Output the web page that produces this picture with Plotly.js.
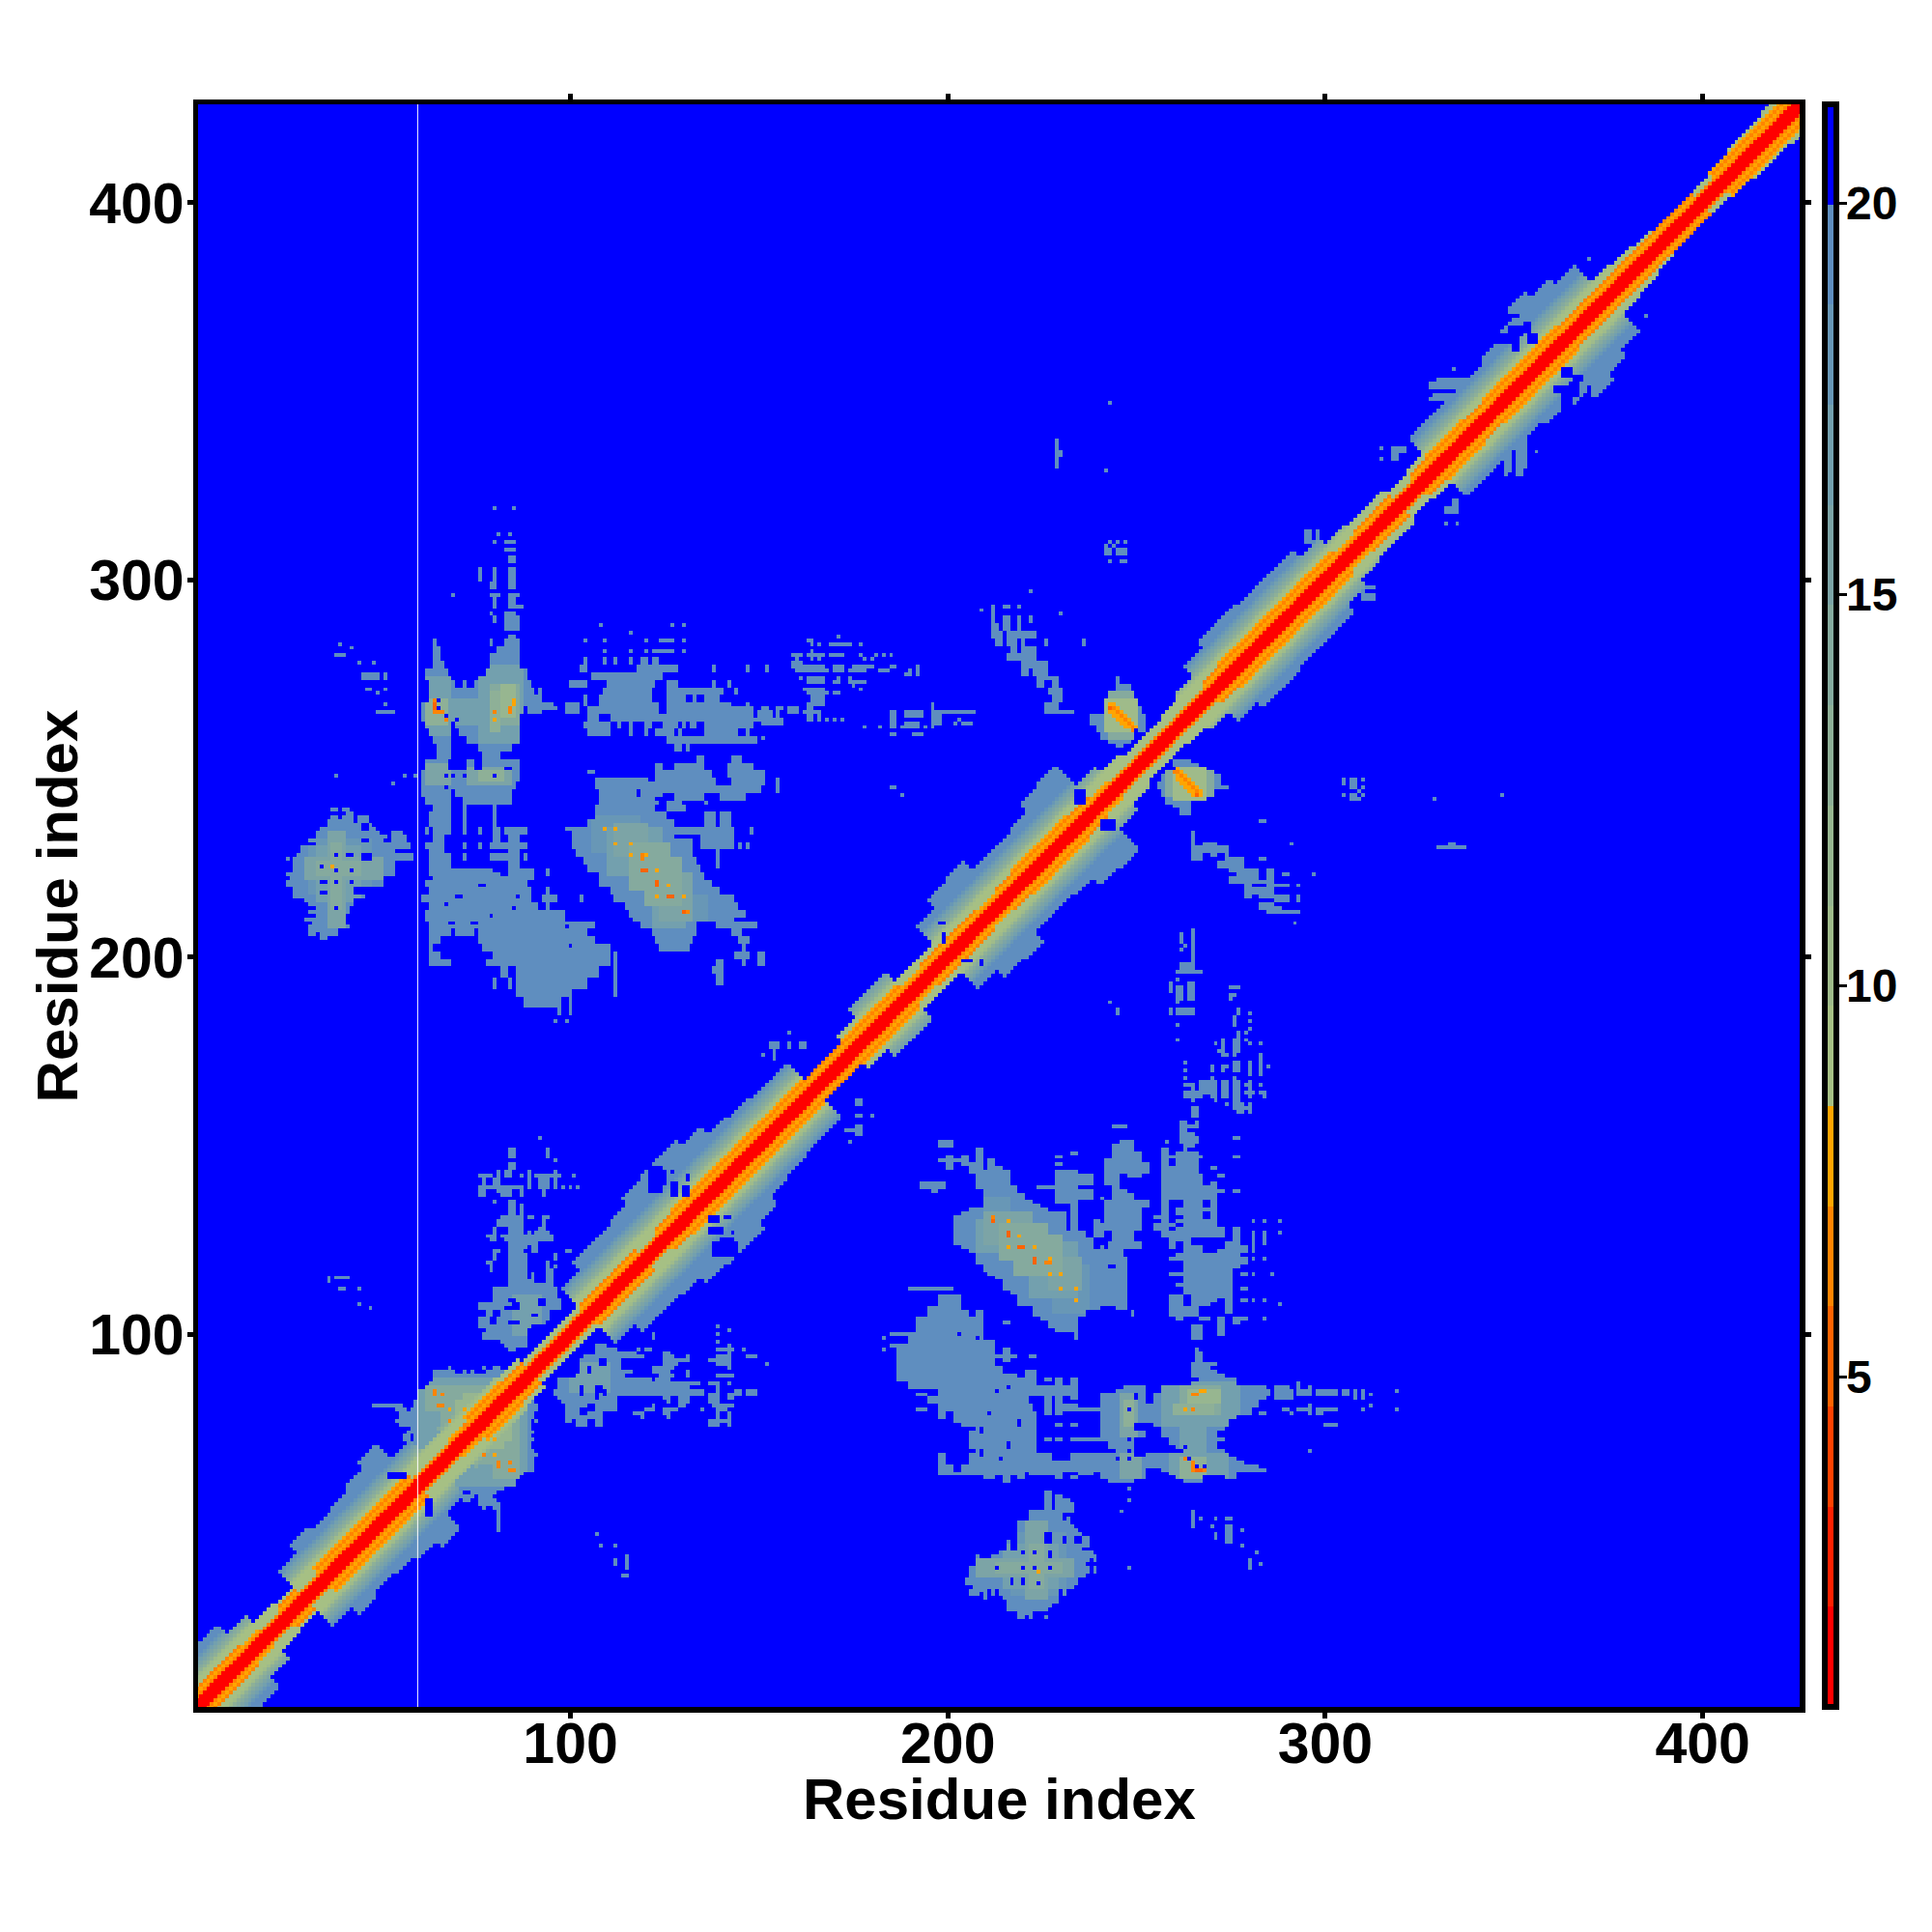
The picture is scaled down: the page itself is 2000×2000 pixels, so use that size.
<!DOCTYPE html>
<html><head><meta charset="utf-8">
<script src="https://cdn.plot.ly/plotly-3.0.1.min.js"></script>
<style>html,body{margin:0;padding:0;background:#fff}</style></head>
<body><div id="chart" style="width:2000px;height:2000px"></div>
<script>
const nResidues = 426;
const axisTitle = 'Residue index';
const tickResidues = [100, 200, 300, 400];
const colorTicks = [5, 10, 15, 20];
const bandColors = ['#FF0000','#FF2100','#FF4200','#FF6300','#FF8400','#FFA500',
  '#A6C084','#9FBB8A','#97B690','#8EB097','#85AA9E','#7CA4A6','#73A0AE','#6897B6','#5F8EBF','#0000FF'];
const zLow = 0.78, zHigh = 21.26;
const BLUE = 21, STEEL = 19.3;

// contact distance by sequence separation |i-j|
const byOffset = [1.3,1.3,1.3,6.5,7.8,6.5,7.8,9,10.3,12.9,14.2,15.4,16.7,18,19.3];
// half-widths of the diagonal band, one value per 5 residues along the diagonal
const bandSteel = [18,18,16,11,7,6,14,18,16,17,19,22,14,8,10,10,8,7,5,5,5,14,18,18,19,22,23,23,20,16,15,14,14,5,5,8,12,12,7,7,
  16,20,21,16,16,17,21,22,11,8,6,6,7,9,14,17,17,16,16,16,12,9,8,8,6,7,15,15,15,15,17,19,23,20,17,8,7,6,5,5,5,6,7,7,8,8];
const bandOrange = [5,5,5,4,3,5,3,6,6,6,6,6,3,3,4,6,6,5,3,3,3,5,5,5,3,5,6,6,6,6,6,6,6,5,5,6,6,6,4,5,
  5,5,4,5,6,6,6,5,4,3,3,3,3,3,5,6,6,6,6,6,6,4,5,5,3,5,6,6,5,6,6,6,6,5,5,5,5,5,5,6,3,6,6,6,6,6];

// off-diagonal steel regions: [yHigh, yLow, x1, x2, x1, x2, ...]
const steelRows = [
 // blob near (37,224)
 [239,239,37,38,40,41],[238,238,41,42],[237,237,37,38,40,42,44,46],[236,236,36,42,44,46],[235,235,36,47],[234,234,34,48],
 [233,233,33,49,53,55],[232,232,33,49,50,51,53,56],[231,231,31,32,33,50,53,56],[230,230,33,52,53,57],[229,229,29,52,53,57],
 [228,228,29,53],[227,227,28,53,54,58],[226,226,25,25,27,58],[225,223,27,53],[222,222,25,53],[221,221,26,50],[220,219,25,50],
 [218,217,27,42],[216,216,27,45],[215,215,30,42],[214,214,31,42],[213,213,33,41],[212,212,31,41],[211,211,33,40],[210,210,30,40],
 [209,209,32,40],[208,208,31,32,33,41],[207,207,31,32,33,38],[206,206,31,32,34,36,37,38],[205,205,34,35],
 // spike and wedge above (64..90, 245..320)
 [319,319,80,80,85,85],[312,312,81,81,84,84],[310,310,80,80,83,85],[308,308,83,85],[306,305,84,85],[303,300,76,76,80,80,84,85],
 [299,298,79,80,84,85],[296,296,69,69,79,81,84,86],[295,294,80,80,84,85],[293,293,80,80,84,87],[291,291,79,79,83,85],[290,289,80,80,83,86],
 [288,287,83,86],[285,285,84,85],[284,283,64,64,79,79,83,86],[282,281,64,65,81,86],[280,279,64,65,79,86],[278,277,64,66,79,86],
 [276,275,62,67,78,88],[274,274,62,68,76,88],[273,272,63,69,72,72,75,89],[271,270,63,70,71,73,74,90,92,92],[269,268,63,92],
 [267,267,61,95],[266,266,61,87,88,96],[265,265,61,87,88,92],[264,263,61,86],[262,261,62,68,70,86],[260,259,63,68,71,86],
 [258,257,64,68,73,86],[256,255,65,68,76,84],[254,253,65,68,77,81],[252,250,62,67,73,74,77,86],[249,247,61,86],[246,245,61,85],
 [244,243,61,68,70,84],[242,241,62,68,72,84],
 // columns and big region below
 [240,239,64,68,72,72,80,80],[238,235,63,68,72,72,80,80],[234,233,62,62,64,68,72,72,76,76,80,81,83,88],[232,231,64,66,80,81,84,86],
 [230,229,62,66,72,72,76,76,79,88],[228,228,63,66,84,86],[227,226,63,68,72,72,79,83,84,86,88,88],[225,224,63,68,84,86],
 [223,222,63,70,71,81,84,90,94,94],[221,221,64,70,71,90],[220,219,62,62,63,88],[218,217,63,89,94,94],[216,215,61,89,93,96,103,103],
 [214,213,63,91,94,94],[212,210,62,62,63,98],[209,208,63,75,76,106],[207,206,63,68,70,74,76,104],[205,204,63,65,76,106],
 [203,202,63,63,77,110],[201,200,63,65,80,110,112,112],[199,198,63,68,78,110,112,112],[197,195,82,83,86,107,112,112],[194,192,80,80,84,84,86,104,112,112],
 [191,190,86,100,112,112],[189,187,88,96,97,97,100,100],[186,185,97,97,100,100],[183,183,96,96,99,99],
 // anti-diagonal blob (105..150, 205..250)
 [249,249,105,106],[247,247,107,120],[246,245,107,124],[244,243,108,117,119,124],[242,241,108,122],[240,239,107,122],[238,237,107,125],
 [236,235,105,127],[234,234,99,135],[233,232,101,127],[231,229,101,132],[228,227,102,132],[226,225,104,133],[224,223,105,134],[222,221,108,135],
 [220,219,108,137],[218,217,111,139],[216,215,112,143],[214,213,115,144],[212,211,116,146],[210,210,117,134,135,139,140,143],[209,208,119,133,139,149],
 [207,206,122,133,143,145],[205,204,123,132,145,147],[203,202,124,131,146,146],[201,200,144,147,150,151],[199,198,139,140,146,146,150,151],
 [197,196,138,140],[195,193,139,140],
 // sparse region (100..150, 255..290)
 [288,288,108,108,127,127,130,130],[286,286,116,116],[284,284,104,104,109,109,120,120,124,127,130,130],[281,281,109,109,116,116,120,120,122,127,130,130],
 [279,278,104,104,109,109,112,112,116,116,119,120,122,123],[277,276,103,104,118,128,138,138,147,147,152,152],[275,274,106,110,111,124],
 [273,272,100,104,110,122,126,128,138,138,142,142],[271,270,109,121,126,140,144,144],[269,268,104,104,108,121,126,130,133,133,136,139],
 [267,267,99,102,104,104,108,123,126,142,147,147],[266,265,99,102,105,112,111,123,126,148,151,152,155,155,158,160],
 [264,263,105,107,111,120,121,148,150,152,155,155],[262,261,104,110,113,113,116,116,120,121,125,128,130,130,132,133,136,148],
 [260,259,105,110,116,116,120,120,123,127,129,129,136,144,147,147],[258,257,126,149],[256,255,128,129,131,131],
 [253,252,134,135,143,145],[251,250,123,124,128,135,142,148],[249,248,123,137,142,151],[247,246,123,138,143,151,155,155],[245,244,121,138,139,150,155,155],
 [243,242,128,135,140,146],[241,241,123,123,126,129,136,136],[240,239,126,130],[238,235,136,138,140,142],[234,233,127,134,135,143,148,148],
 [232,231,135,143],[230,229,135,143,145,145,147,147],[228,224,131,132,139,139],
 // small outliers upper left
 [283,283,39,39],[282,282,42,42],[280,280,38,40],[278,278,44,44,48,48],[275,274,45,49,51,51],[271,271,46,47,51,51],[270,270,49,49],[267,267,51,51],[265,265,49,53],
 [248,248,38,38,56,56,59,59],[246,246,53,53],
 // row of near-diagonal wedge (x 96..125, y 76..100)
 [97,96,107,109],[95,95,107,109,110,112,113,117],[94,94,104,111,113,118],[93,91,103,113],[90,90,103,113,122,122],[89,89,102,113],[88,88,99,121],
 [87,86,97,125,126,131],[85,85,96,135],[84,84,96,117,118,135,137,139],[83,82,98,110,126,126,130,131,137,139],[81,81,99,108,122,122,130,130,138,143],
 [80,80,99,107,120,122,126,128,135,135,139,141],[79,78,100,106,119,119,126,126,139,139,142,142],[77,76,102,102,107,107,137,139,142,142],
 [98,98,139,139],[96,96,118,118,139,143,146,146],[94,94,126,127,131,131,141,142,147,147],[93,93,126,128,130,131,137,137,139,139,141,142],
 [92,92,125,128,139,139,141,142,152,152],[91,91,122,122,124,124,126,127,142,142],[89,89,124,124,126,127,131,131,139,140,142,143],[87,87,133,133,137,137,139,139,142,142],
 [85,85,145,145,147,147],[84,84,142,145,147,149],[83,83,143,143],
 // column x 84..87 and around it (mirror side of the wedge)
 [152,152,92,92],[149,147,84,85,94,94],[146,146,96,96],[145,144,84,85],[143,143,81,81,83,84,89,89,96,96],[142,142,77,77,79,79,81,81,83,83,87,87,89,89,91,97,101,101],
 [141,140,77,77,80,81,89,89,92,94,96,96],[139,139,77,77,79,87,92,94,96,96,98,98,100,100,102,102],[138,137,77,77,83,84,87,87,93,93],
 [135,135,80,80,84,85],[134,132,84,85,87,87],[131,131,82,82,84,87,90,90,93,94],[130,129,81,83,84,87,93,93],[128,127,80,80,84,87,92,92],[126,125,79,80,83,95],
 [124,123,84,88,90,91],[122,122,80,81,84,87,91,91,99,100],[121,120,84,87,96,96],[119,117,79,79,84,87,94,94],[116,115,84,88,90,90,94,95],
 [114,113,84,90,94,95],[112,111,80,81,82,96],[110,109,80,82,84,96],[108,107,76,80,82,83,88,92],[106,105,78,85,88,92],[104,103,76,78,81,89],[102,101,82,87],[100,99,77,88],[98,97,83,88],
 // star beside the diagonal (54..91)
 [91,91,68,68,77,77,80,81],[90,90,64,69,72,72,74,74,78,84],[89,89,64,89],[88,88,64,88],[87,87,63,87],[86,86,62,87],[85,84,60,85],[83,83,60,83],[82,82,59,82],
 [81,81,48,55,59,81],[80,80,54,56,58,80],[79,78,55,79],[77,77,54,77],[76,76,55,77],[75,75,58,75],[74,74,57,74],[73,72,56,57,59,73],[71,69,59,71],[68,67,60,68],
 // anti-diagonal stripe (212..236, 265..297) and neighbours
 [297,297,222,222],[293,293,212,212,215,216,219,219],[292,292,209,209,212,212],[291,291,212,212,230,230],[290,289,212,212,215,216,219,219,222,222],
 [288,287,212,213,215,216,219,219],[286,285,212,214,216,220,221,223],[284,283,213,214,216,218,220,220,226,226,236,236],[282,281,217,218,220,223],
 [280,279,216,223],[278,277,220,223,224,226],[276,275,220,221,223,226],[274,274,224,229],[273,272,224,225,228,229],[271,270,227,230],[269,268,228,230],[267,266,226,229],[265,265,226,233],
 // hot blob (238..252, 257..273)
 [274,273,245,245],[272,271,245,248],[270,269,243,249],[268,267,242,250],[266,265,242,251],[264,263,238,252],[262,262,238,252],[261,260,240,249,251,252],[259,258,241,249],[257,257,243,248],[256,256,245,246],
 // sparse (152..207, 258..285)
 [285,285,171,171],[284,284,163,164],[283,283,164,164,166,166,169,174,177,177],[281,281,164,164],[280,280,159,161,163,167,169,172,177,177,181,181,185,185],[279,279,160,160,164,164,166,166,178,178,180,180],
 [278,278,159,161],[277,277,152,152,159,167,170,172,175,180,186,186,192,192],[276,276,160,168,170,172,174,178,182,182,184,184,190,190,192,192],[274,274,161,161,163,167,171,171,174,174],
 [273,273,163,167,170,171,174,178],[272,272,175,175],[271,271,162,167,177,177],[270,270,163,168,170,171],[269,268,164,167],[267,267,163,167],[266,266,155,156,163,164,196,196],
 [265,265,150,153,155,155,159,160,162,166,186,186,190,193,196,201,203,204,206,207],[264,264,152,153,155,155,163,164,166,166,186,186,190,193,196,198],[263,263,149,149,151,156,163,164,166,166,168,168,170,170,172,172,186,186,197,198,203,203],
 [262,262,151,152,153,156,186,186,189,191,197,198,202,202,206,206],[261,261,178,178,182,182,186,186,189,192,194,194,196,196],[259,259,186,186,191,193],[258,258,149,149,151,151],
 // distant specks
 [310,310,243,243,245,245,247,247],[309,309,242,242,244,244],[308,307,242,243,245,247],[305,305,243,243,246,247],[337,330,229,229],[334,333,230,230],[329,329,242,242],[347,347,243,243],
 [207,207,265,265],[206,204,262,262,265,265],[203,198,265,265],[197,197,264,265],[196,196,261,267],[194,194,261,261],[192,192,259,259,261,262,264,265,275,277],[190,189,261,261,264,265,275,275],[188,188,243,243,261,261],[186,185,245,245,259,259,261,265,277,277],[183,183,276,276,280,280],
 [115,115,36,36,38,41],[112,112,39,39,44,44],[108,108,44,44],[107,107,47,47],[47,47,107,107],[44,44,108,108,112,112],[40,39,112,112,115,115],[36,36,114,115],
 // beside the band, upper half
 [353,353,330,338],[352,351,328,339],[349,349,329,337],[348,348,328,340],[346,344,332,335],[356,356,334,334],[385,385,370,370],[335,334,318,321],[333,332,318,319],[335,335,315,315],[332,332,315,315],
 [313,310,295,296,298,298],[299,297,306,307,309,310],[339,336,347,353],[335,333,348,349,351,353],[332,330,348,348,351,352],
 [180,180,158,158],[177,176,153,155,158,158,161,162],[175,173,154,154],[174,174,151,151],[171,171,158,158]
];

// lighter interior of the regions: [x1, x2, y1, y2, value]
const midPatches = [
 [31,47,217,231,18],[33,44,215,229,16.7],[36,40,208,233,15.4],[30,50,221,226,15.4],[37,39,213,230,14.2],[33,44,222,225,14.2],
 [62,68,259,274,16.7],[62,67,262,268,12.9],[76,87,257,277,16.7],[79,86,262,272,14.2],[82,85,264,272,11.6],[79,81,260,270,12.9],[68,76,262,268,16.7],
 [62,68,246,251,15.4],[73,84,246,250,15.4],[76,82,247,249,12.9],
 [106,118,228,237,18],[110,124,222,234,16.7],[112,120,227,235,15.4],[116,126,218,230,14.2],[120,129,214,226,14.2],[124,132,210,222,15.4],[122,130,208,216,16.7],[130,136,210,216,18],
 [243,249,258,270,14.2],[242,250,260,268,10.3],
 [60,88,66,88,16.7],[66,84,70,86,14.2],[70,84,72,82,11.6],[62,66,80,86,14.2],
 [85,92,100,110,16.7]
];
// cells or rectangles with no contact inside the regions: [x1, x2, y1, y2]
const holes = [
 [45,47,226,227],[45,46,234,235],[45,46,231,231],[34,34,224,224],[34,35,220,220],[38,38,227,227],[41,42,227,227],[38,38,223,223],[42,42,223,223],[38,38,220,220],[42,42,220,220],[34,35,217,217],[38,38,213,213],
 [65,65,268,268],[65,65,266,266],[66,66,265,265],[67,67,264,264],[88,88,265,266],[70,70,263,263],
 [67,67,248,248],[69,69,248,248],[72,72,248,248],[80,80,248,248],[83,84,250,250],[67,67,245,245],
 [67,67,214,214],[79,79,211,211],[74,75,209,209],[68,69,209,209],[86,86,216,216],[70,71,216,216],[80,81,223,223],[76,77,219,219],[85,85,213,213],[99,99,208,208],[100,100,203,203],
 [123,125,140,143],[127,127,143,143],[127,128,137,140],[130,131,137,139],[137,139,130,131],[137,140,127,128],[138,144,121,124],[141,142,131,131],
 [350,352,365,367],[354,356,363,365],[350,351,361,363],[346,348,363,365],[363,367,349,351],[366,368,353,354],[349,351,370,370],
 [52,56,62,63],[204,206,199,199],[209,209,198,199],[199,199,205,206],[241,244,234,236],
 [103,103,84,86],[107,107,83,86],[109,109,84,85],[105,105,90,91],[108,109,92,93],[79,80,103,104],[85,86,107,108],[80,81,105,106]
];
// closest contacts: [x, y, value]
const hotCells = [
 [37,224,7.8],[64,268,6.5],[64,267,5.2],[64,266,5.2],[64,265,6.5],[65,265,6.5],[66,265,6.5],[67,263,6.5],[85,268,7.8],[85,267,7.8],[84,266,6.5],[84,265,6.5],[80,265,6.5],[80,263,7.8],
 [109,234,7.8],[112,234,7.8],[112,230,7.8],[116,230,7.8],[116,227,7.8],[119,227,6.5],[120,227,7.8],[119,226,6.5],[119,223,5.2],[120,223,5.2],[123,223,7.8],[123,220,5.2],[123,219,5.2],[126,219,7.8],[123,216,7.8],[126,216,5.2],[127,216,5.2],[130,216,7.8],[130,212,5.2],[131,212,6.5],
 [64,85,6.5],[64,84,6.5],[66,84,6.5],[65,81,6.5],[66,81,6.5],[68,80,7.8],[68,77,6.5],[72,76,6.5],[72,80,7.8],
 [243,266,5.2],[244,266,6.5],[244,265,7.8],[245,265,6.5],[245,264,7.8],[246,264,6.5],[246,263,7.8],[247,263,6.5],[247,262,7.8],[248,262,6.5],[248,261,7.8],[249,261,6.5],[249,260,6.5],
 [243,267,7.8],[244,267,7.8],[245,266,7.8],[246,265,7.8],[247,264,7.8],[248,263,7.8],[249,262,7.8],[250,261,7.8],[243,265,7.8],[244,264,7.8],[245,263,7.8],[246,262,7.8],[247,261,7.8]
];
// thin white line at the gap in the sequence
const gapX = [59.5, 59.5];
const gapY = [0, 427];

const residues = Array.from({length: nResidues}, (_, k) => k + 1);
const z = residues.map(() => residues.map(() => BLUE));
function lower(x, y, v) {
  if (x < 1 || y < 1 || x > nResidues || y > nResidues) return;
  if (v < z[y-1][x-1]) z[y-1][x-1] = v;
  if (v < z[x-1][y-1]) z[x-1][y-1] = v;
}
function clear(x, y) {
  if (x < 1 || y < 1 || x > nResidues || y > nResidues) return;
  z[y-1][x-1] = BLUE; z[x-1][y-1] = BLUE;
}
residues.forEach(i => residues.forEach(j => {
  const d = Math.abs(i - j), bin = Math.min(bandSteel.length - 1, Math.floor((i + j) / 10));
  if (d > bandSteel[bin]) return;
  let v = byOffset[Math.min(d, byOffset.length - 1)];
  if (d >= 3 && d > bandOrange[bin]) v = Math.max(v, 9);
  lower(i, j, v);
}));
steelRows.forEach(row => {
  for (let y = row[1]; y <= row[0]; y++)
    for (let k = 2; k < row.length; k += 2)
      for (let x = row[k]; x <= row[k+1]; x++) lower(x, y, STEEL);
});
midPatches.forEach(p => {
  for (let y = p[2]; y <= p[3]; y++) for (let x = p[0]; x <= p[1]; x++)
    if (z[y-1][x-1] < BLUE) lower(x, y, p[4]);
});
holes.forEach(h => {
  for (let y = h[2]; y <= h[3]; y++) for (let x = h[0]; x <= h[1]; x++) clear(x, y);
});
hotCells.forEach(c => lower(c[0], c[1], c[2]));

const colorscale = [];
bandColors.forEach((c, k) => {
  colorscale.push([k / bandColors.length, c]);
  colorscale.push([(k + 1) / bandColors.length, c]);
});

const boldFont = size => ({family: '"Liberation Sans", Arial, sans-serif', size, color: '#000', weight: 700});
const axisBase = {
  tickvals: tickResidues, ticktext: tickResidues.map(String),
  ticks: 'outside', ticklen: 6, tickwidth: 5, tickcolor: '#000',
  showline: true, linewidth: 5.5, linecolor: '#000', mirror: 'ticks',
  showgrid: false, zeroline: false, tickfont: boldFont(59), automargin: false
};
const colorLabels = colorTicks.map(v => ({
  text: String(v), xref: 'paper', yref: 'paper', x: 1.028, y: (v - zLow) / (zHigh - zLow),
  xanchor: 'left', yanchor: 'middle', showarrow: false, font: boldFont(48)
}));
const titleLabels = [
  {text: axisTitle, xref: 'paper', yref: 'paper', x: 0.5, y: -0.0573, xanchor: 'center', yanchor: 'middle', showarrow: false, font: boldFont(60)},
  {text: axisTitle, xref: 'paper', yref: 'paper', x: -0.0875, y: 0.5, xanchor: 'center', yanchor: 'middle', textangle: -90, showarrow: false, font: boldFont(60)}
];
Plotly.newPlot('chart', [
  {type: 'heatmap', x: residues, y: residues, z, zmin: zLow, zmax: zHigh, colorscale, zsmooth: false, hoverinfo: 'skip',
   colorbar: {tickvals: colorTicks, showticklabels: false, ticks: 'outside', ticklen: 8, tickwidth: 3, tickcolor: '#000',
     thickness: 12, thicknessmode: 'pixels', outlinewidth: 6, outlinecolor: '#000',
     len: 1, lenmode: 'fraction', y: 0.5, yanchor: 'middle', ypad: 0, x: 1.0157, xanchor: 'left', xpad: 0, borderwidth: 0}},
  {type: 'scatter', mode: 'lines', x: gapX, y: gapY, line: {color: '#fff', width: 1}, hoverinfo: 'skip', showlegend: false}
], {
  width: 2000, height: 2000, paper_bgcolor: '#fff', plot_bgcolor: '#00f', showlegend: false,
  margin: {l: 205, r: 137, t: 108, b: 233, pad: 0},
  annotations: colorLabels.concat(titleLabels),
  xaxis: Object.assign({}, axisBase, {range: [1.3, 425.7], ticklabelstandoff: -24}),
  yaxis: Object.assign({}, axisBase, {range: [1.25, 426.1], ticklabelstandoff: -9})
}, {displayModeBar: false, staticPlot: true});
</script></body></html>
